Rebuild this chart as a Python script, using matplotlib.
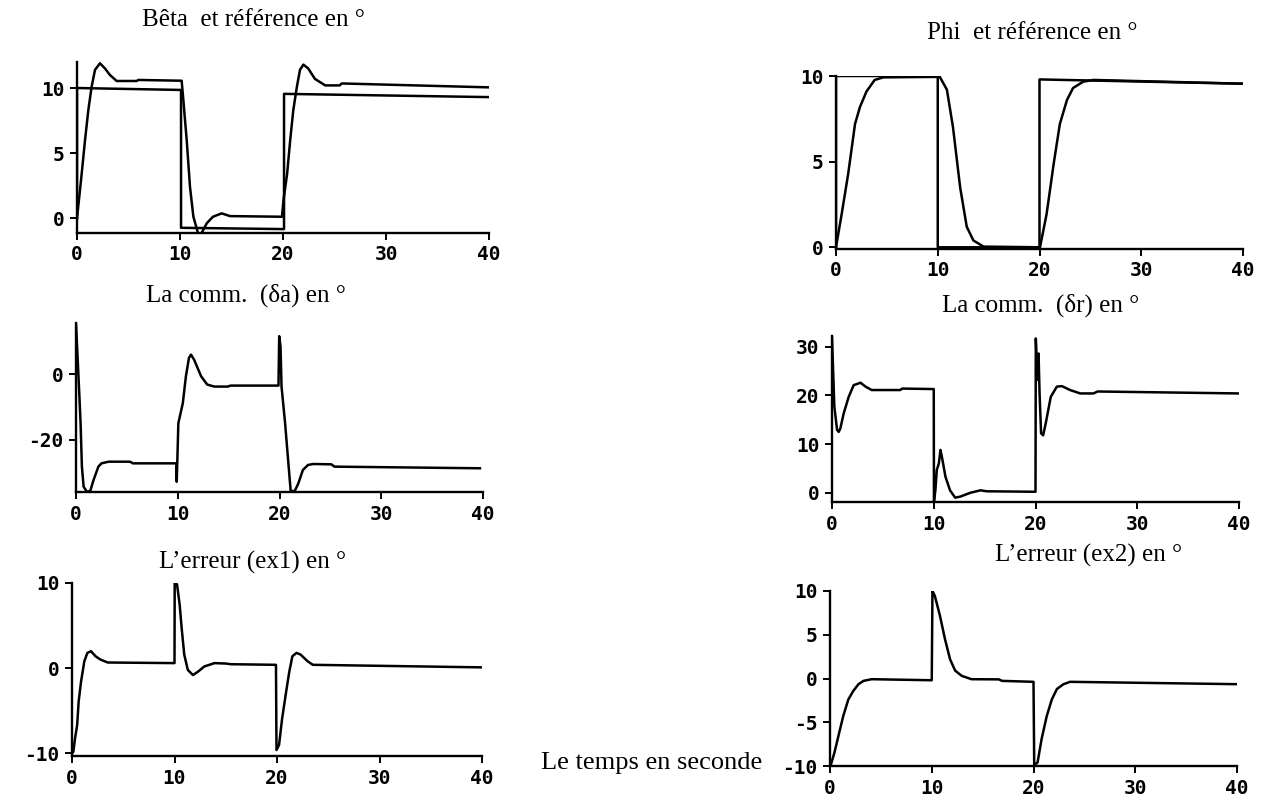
import matplotlib
matplotlib.use("Agg")
import matplotlib.pyplot as plt

plt.rcParams["axes.unicode_minus"] = False

# --- Data (time in s, angles in deg) ---
ticks_t = [0, 10, 20, 30, 40]

# Beta and its reference
beta_ref_t = [0, 0, 10.1, 10.1, 20.1, 20.1, 40]
beta_ref_v = [0, 10, 9.85, -0.75, -0.85, 9.55, 9.3]
beta_t = [0, 0.39, 0.78, 1.1, 1.42, 1.75, 2.23, 2.72, 3.2, 3.85, 5.8, 5.95,
          10.16, 10.3, 10.65, 10.97, 11.3, 11.8, 12.1, 12.6, 13.2, 14.05, 14.85,
          19.9, 20.05, 20.4, 20.7, 21.0, 21.35, 21.65, 21.98, 22.45, 23.1, 24.1,
          25.5, 25.7, 40]
beta_v = [0, 2.9, 6.0, 8.3, 10.1, 11.4, 11.9, 11.5, 11.0, 10.54, 10.54, 10.62,
          10.56, 9.3, 6.0, 2.4, 0.1, -1.3, -1.15, -0.4, 0.1, 0.36, 0.15,
          0.1, 1.4, 3.4, 6.0, 8.3, 10.1, 11.4, 11.8, 11.5, 10.7, 10.2,
          10.2, 10.35, 10.05]

# Phi and its reference
phi_ref_t = [0, 0, 10, 10, 20, 20, 40]
phi_ref_v = [0, 10, 10, 0, 0, 9.8, 9.55]
phi_t = [0, 0.56, 1.2, 1.87, 2.36, 3.0, 3.8, 4.65, 10.2, 10.9, 11.5, 12.2,
         12.85, 13.5, 14.5, 20.05, 20.7, 21.4, 22.0, 22.7, 23.3, 24.3, 25.3, 40]
phi_v = [0, 1.95, 4.3, 7.2, 8.2, 9.1, 9.77, 9.92, 9.95, 9.2, 7.0, 3.5,
         1.2, 0.4, 0.04, 0.0, 1.95, 4.9, 7.2, 8.6, 9.3, 9.67, 9.77, 9.55]

# Aileron command (delta a)
da_t = [0, 0.32, 0.45, 0.58, 0.75, 1.07, 1.4, 1.72, 2.2, 2.5, 3.2, 5.3, 5.6,
        9.85, 9.9, 10.06, 10.5, 10.8, 11.1, 11.3, 11.6, 12.3, 12.9, 13.6, 14.9,
        15.2, 19.9, 19.97, 20.1, 20.2, 20.55, 20.9, 21.1, 21.5, 21.85, 22.3,
        22.8, 23.3, 25.1, 25.4, 39.7]
da_v = [15.5, -5.8, -14.9, -28.1, -34.2, -35.7, -35.5, -32.2, -28.1, -27.1,
        -26.6, -26.6, -27.1, -27.1, -32.7, -14.9, -8.8, -0.7, 4.9, 5.9, 4.4,
        -0.7, -3.2, -3.8, -3.8, -3.5, -3.5, 11.5, 8.4, -3.8, -14.9, -28.1,
        -35.5, -35.5, -33.2, -29.1, -27.6, -27.3, -27.4, -28.1, -28.6]

# Rudder command (delta r)
dr_t = [0, 0.23, 0.5, 0.66, 0.82, 1.15, 1.64, 2.13, 2.8, 3.3, 3.9, 6.7, 6.9,
        10.0, 10.02, 10.16, 10.3, 10.5, 10.66, 10.8, 11.15, 11.6, 12.1, 12.6,
        13.6, 14.6, 15.2, 20.0, 20.03, 20.2, 20.3, 20.4, 20.55, 20.75, 21.0,
        21.5, 22.1, 22.6, 23.4, 24.4, 25.7, 26.1, 40]
dr_v = [32.0, 17.7, 12.9, 12.5, 13.2, 16.3, 19.7, 22.1, 22.6, 21.8, 21.1,
        21.1, 21.4, 21.3, -1.9, 0.5, 4.7, 6.0, 8.8, 7.4, 3.3, 0.5, -1.0, -0.8,
        0.0, 0.5, 0.3, 0.2, 31.7, 23.2, 28.6, 20.4, 12.2, 11.8, 14.2, 19.7,
        21.8, 21.9, 21.1, 20.4, 20.4, 20.8, 20.4]

# Error ex1
ex1_t = [0, 0.13, 0.3, 0.5, 0.65, 0.88, 1.2, 1.5, 1.85, 2.3, 2.8, 3.5,
         10.0, 10.02, 10.25, 10.5, 10.7, 10.95, 11.3, 11.8, 12.3, 12.9, 13.9,
         15.0, 15.5, 19.9, 19.95, 20.2, 20.5, 20.9, 21.2, 21.5, 21.9, 22.3,
         23.0, 23.5, 40]
ex1_v = [-10, -9.8, -8.2, -6.7, -3.9, -1.6, 0.8, 1.8, 2.0, 1.4, 1.0, 0.67,
         0.6, 10.4, 9.8, 7.5, 4.7, 1.6, -0.2, -0.8, -0.4, 0.2, 0.6,
         0.55, 0.47, 0.4, -9.6, -9.0, -5.9, -2.7, -0.4, 1.4, 1.8, 1.6,
         0.8, 0.4, 0.1]

# Error ex2
ex2_t = [0.1, 0.43, 0.82, 1.3, 1.8, 2.3, 2.8, 3.3, 4.1, 10.0, 10.07, 10.3,
         10.8, 11.3, 11.8, 12.3, 12.95, 13.9, 16.6, 16.9, 20.0, 20.07, 20.4,
         20.8, 21.3, 21.8, 22.3, 22.95, 23.6, 40]
ex2_v = [-9.8, -8.5, -6.6, -4.3, -2.4, -1.4, -0.65, -0.27, -0.08, -0.2, 10.0,
         9.45, 7.2, 4.5, 2.2, 0.9, 0.3, -0.08, -0.1, -0.27, -0.38, -9.9, -9.6,
         -6.9, -4.3, -2.4, -1.2, -0.65, -0.38, -0.65]

W, H = 1268, 798
fig = plt.figure(figsize=(W / 100, H / 100), dpi=100)
fig.patch.set_facecolor("white")

serif = "Liberation Serif"
mono = "DejaVu Sans Mono"


def panel(x0, x1, ytop, ybot, ylim, yticks):
    # axes placed by pixel box of the scanned frame
    ax = fig.add_axes([x0 / W, (H - ybot) / H, (x1 - x0) / W, (ybot - ytop) / H])
    ax.set_xlim(0, 40)
    ax.set_ylim(*ylim)
    ax.set_xticks(ticks_t)
    ax.set_yticks(yticks)
    for s in ("top", "right"):
        ax.spines[s].set_visible(False)
    for s in ("left", "bottom"):
        ax.spines[s].set_linewidth(1.7)
    ax.tick_params(direction="out", length=5, width=1.4, pad=4)
    for lab in ax.get_xticklabels() + ax.get_yticklabels():
        lab.set_fontfamily(mono)
        lab.set_fontweight("bold")
        lab.set_fontsize(14)
    ax.patch.set_alpha(0)
    return ax


style = dict(color="black", lw=1.8)

ax1 = panel(77, 489, 62, 233, (-1.15, 12.0), [0, 5, 10])
ax1.plot(beta_ref_t, beta_ref_v, **style)
ax1.plot(beta_t, beta_v, **style)

ax2 = panel(836, 1243, 76, 249, (-0.1, 10), [0, 5, 10])
ax2.plot(phi_ref_t, phi_ref_v, **style)
ax2.plot(phi_t, phi_v, **style)

ax3 = panel(76, 483, 323, 492, (-35.8, 15.5), [-20, 0])
ax3.plot(da_t, da_v, **style)

ax4 = panel(832, 1239, 336, 502, (-1.9, 32.2), [0, 10, 20, 30])
ax4.plot(dr_t, dr_v, **style)

ax5 = panel(72, 482, 583, 756, (-10.3, 10), [-10, 0, 10])
ax5.plot(ex1_t, ex1_v, **style)

ax6 = panel(830, 1237, 591, 766, (-10, 10), [-10, -5, 0, 5, 10])
ax6.plot(ex2_t, ex2_v, **style)

# --- Titles (figure pixel positions) ---
titles = [
    (253, 20, "Bêta  et référence en °"),
    (1032, 33, "Phi  et référence en °"),
    (246, 295, "La comm.  (δa) en °"),
    (1041, 305, "La comm.  (δr) en °"),
    (253, 562, "L’erreur (ex1) en °"),
    (1089, 555, "L’erreur (ex2) en °"),
]
for x, y, txt in titles:
    fig.text(x / W, 1 - y / H, txt, ha="center", va="center",
             fontfamily=serif, fontsize=18)

fig.text(762 / W, 1 - 763 / H, "Le temps en seconde", ha="right", va="center",
         fontfamily=serif, fontsize=19)

fig.savefig("out.png", dpi=100)
plt.close(fig)
